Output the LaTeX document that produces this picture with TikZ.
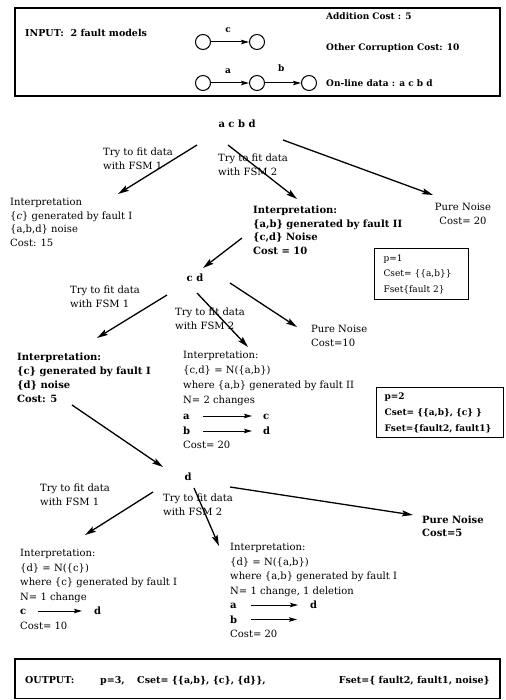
\documentclass[tikz,border=0pt]{standalone}
\usepackage{fontspec}
\setmainfont{DejaVu Serif}
\usetikzlibrary{arrows.meta}
\usetikzlibrary{calc}

\begin{document}
\begin{tikzpicture}[x=1pt, y=-1pt,
    txt/.style={inner sep=0pt, align=left, anchor=north west, font=\fontsize{10}{13.5}\selectfont},
    btxt/.style={txt, font=\fontsize{10}{13.5}\selectfont\bfseries},
    ltr/.style={inner sep=0pt, anchor=west, text height=7pt, text depth=0pt, font=\fontsize{10}{12}\selectfont\bfseries},
    big/.style={-{Stealth[length=11pt, width=6pt, inset=2pt]}, line width=1.3pt},
    small/.style={-{Stealth[length=8pt, width=4.5pt, inset=1.5pt]}, line width=1pt},
    state/.style={circle, draw, line width=1pt, minimum size=15pt, inner sep=0pt},
    frame/.style={draw, line width=1.2pt}]

  \useasboundingbox (0,0) rectangle (505,700);

  % input
  \draw[frame] (15,8) rectangle (500,96);
  \node[ltr, font=\fontsize{9.5}{12}\selectfont\bfseries] (input) at (25,33) {INPUT:\ \ 2 fault models};
  \node[state] (s1) at (203,42) {};
  \node[state] (s2) at (257,42) {};
  \node[state] (r1) at (203,83) {};
  \node[state] (r2) at (257,83) {};
  \node[state] (r3) at (309,83) {};
  \draw[small] (s1) -- node[pos=0.45, above=9pt, ltr, anchor=south, font=\fontsize{9}{10}\selectfont\bfseries] {c} (s2);
  \draw[small] (r1) -- node[pos=0.45, above=9pt, ltr, anchor=south, font=\fontsize{9}{10}\selectfont\bfseries] {a} (r2);
  \draw[small] (r2) -- node[pos=0.45, above=11pt, ltr, anchor=south, font=\fontsize{9}{10}\selectfont\bfseries] {b} (r3);
  \node[ltr, font=\fontsize{9}{11}\selectfont\bfseries] (addcost) at (326,16) {Addition Cost : 5};
  \node[ltr, font=\fontsize{9}{11}\selectfont\bfseries] (othcost) at (326,47) {Other Corruption Cost: 10};
  \node[ltr, font=\fontsize{9}{11}\selectfont\bfseries] (online) at (326,83) {On-line data : a c b d};

  % first step
  \node[ltr, anchor=center] (acbd) at (237,124) {a c b d};
  \node[txt] (fit1a) at (103,148) {Try to fit data\\with FSM 1};
  \node[txt] (fit1b) at (218,154) {Try to fit data\\with FSM 2};
  \node[txt] (int1a) at (10,198) {Interpretation\\\{\textit{c}\} generated by fault I\\\{a,b,d\} noise\\Cost: 15};
  \node[btxt] (int1b) at (253,206) {Interpretation:\\\{a,b\} generated by fault II\\\{c,d\} Noise\\Cost = 10};
  \node[txt, align=center, anchor=north] (noise1) at (463,203) {Pure Noise\\Cost= 20};
  \draw[big] ($(acbd)+(-40,21)$) -- ($(int1a.north west)+(108,-4)$);
  \draw[big] ($(acbd)+(-9,21)$) -- ($(int1b.north west)+(44,-7)$);
  \draw[big] ($(acbd)+(46,16)$) -- ($(noise1.north)+(-30,-8)$);

  \node[frame, anchor=north west, inner xsep=9pt, inner ysep=6pt, text width=76pt, align=left, font=\fontsize{9}{15.5}\selectfont] (pone) at (374,248) {p=1\\Cset= \{\{a,b\}\}\\Fset\{fault 2\}};

  % second step
  \node[ltr, anchor=center] (cd) at (195,278) {c d};
  \draw[big] ($(int1b.north west)+(-11,32)$) -- ($(cd)+(8,-10)$);
  \node[txt] (fit2a) at (70,286) {Try to fit data\\with FSM 1};
  \node[txt] (fit2b) at (175,308) {Try to fit data\\with FSM 2};
  \node[txt] (noise2) at (311,325) {Pure Noise\\Cost=10};
  \node[btxt, font=\fontsize{10}{14}\selectfont\bfseries] (int2a) at (17,353) {Interpretation:\\\{c\} generated by fault I\\\{d\} noise\\Cost: 5};
  \node[txt, font=\fontsize{10}{15}\selectfont] (int2b) at (183,351) {Interpretation:\\\{c,d\} = N(\{a,b\})\\where \{a,b\} generated by fault II\\N= 2 changes};
  \node[ltr] (ma2) at (183,416) {a};
  \node[ltr] (mc2) at (263,416) {c};
  \node[ltr] (mb2) at (183,431) {b};
  \node[ltr] (md2) at (263,431) {d};
  \draw[small] ($(ma2.east)+(13,0)$) -- ($(mc2.west)+(-11,0)$);
  \draw[small] ($(mb2.east)+(13,0)$) -- ($(md2.west)+(-11,0)$);
  \node[txt] (cost2b) at (183,441) {Cost= 20};
  \draw[big] ($(cd)+(-28,17)$) -- ($(int2a.north west)+(80,-15)$);
  \draw[big] ($(cd)+(2,15)$) -- ($(int2b.north west)+(65,-4)$);
  \draw[big] ($(cd)+(35,5)$) -- ($(noise2.north west)+(-14,2)$);

  \node[frame, anchor=north west, inner xsep=8pt, inner ysep=5pt, text width=111pt, align=left, font=\fontsize{9}{16}\selectfont\bfseries] (ptwo) at (376,387) {p=2\\Cset= \{\{a,b\}, \{c\} \}\\Fset=\{fault2, fault1\}};

  % third step
  \node[ltr, anchor=center] (dd) at (188,477) {d};
  \draw[big] ($(int2a.north west)+(55,52)$) -- ($(dd)+(-25,-10)$);
  \node[txt, font=\fontsize{10}{14}\selectfont] (fit3a) at (40,484) {Try to fit data\\with FSM 1};
  \node[txt] (fit3b) at (163,494) {Try to fit data\\with FSM 2};
  \node[btxt, font=\fontsize{10}{13}\selectfont\bfseries] (noise3) at (422,516) {Pure Noise\\Cost=5};
  \node[txt, font=\fontsize{10}{14.5}\selectfont] (int3a) at (20,549) {Interpretation:\\\{d\} = N(\{c\})\\where \{c\} generated by fault I\\N= 1 change};
  \node[ltr] (mc3) at (20,611) {c};
  \node[ltr] (md3) at (94,611) {d};
  \draw[small] ($(mc3.east)+(12,0)$) -- ($(md3.west)+(-12,0)$);
  \node[txt] (cost3a) at (20,621.5) {Cost= 10};
  \node[txt, font=\fontsize{10}{14.5}\selectfont] (int3b) at (230,543) {Interpretation:\\\{d\} = N(\{a,b\})\\where \{a,b\} generated by fault I\\N= 1 change, 1 deletion};
  \node[ltr] (ma3) at (230,605) {a};
  \node[ltr] (md3b) at (310,605) {d};
  \node[ltr] (mb3) at (230,619.5) {b};
  \coordinate (mb3end) at (297,619.5);
  \draw[small] ($(ma3.east)+(14,0)$) -- ($(md3b.west)+(-12,0)$);
  \draw[small] ($(mb3.east)+(14,0)$) -- (mb3end);
  \node[txt] (cost3b) at (230,630) {Cost= 20};
  \draw[big] ($(dd)+(-35,15)$) -- ($(int3a.north west)+(65,-14)$);
  \draw[big] ($(dd)+(6,11)$) -- ($(int3b.north west)+(-11,3)$);
  \draw[big] ($(dd)+(42,10)$) -- ($(noise3.north west)+(-9,-1)$);

  % output
  \draw[frame] (15,659) rectangle (500,698.5);
  \node[ltr, font=\fontsize{9.5}{12}\selectfont\bfseries] (outlbl) at (25,680) {OUTPUT:};
  \node[ltr, font=\fontsize{9.5}{12}\selectfont\bfseries] (outp) at (100,680) {p=3,};
  \node[ltr, font=\fontsize{9.5}{12}\selectfont\bfseries] (outc) at (137,680) {Cset= \{\{a,b\}, \{c\}, \{d\}\},};
  \node[ltr, font=\fontsize{9.5}{12}\selectfont\bfseries, anchor=east] (outf) at (490,680) {Fset=\{ fault2, fault1, noise\}};
\end{tikzpicture}
\end{document}
